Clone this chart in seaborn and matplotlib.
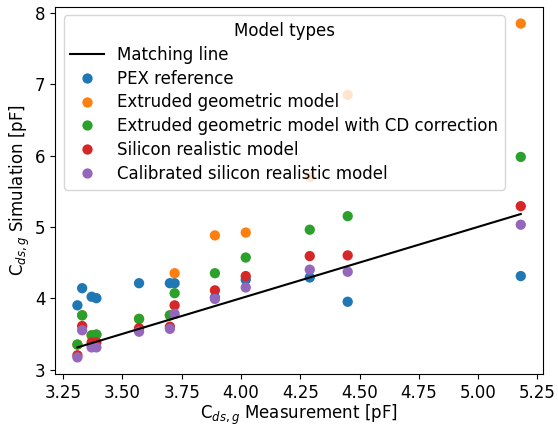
import matplotlib
matplotlib.use("Agg")
import matplotlib.pyplot as plt
import seaborn as sns
import pandas as pd

measurement = [3.31, 3.33, 3.37, 3.39, 3.57, 3.70, 3.72, 3.89, 4.02, 4.29, 4.45, 5.18]
pex_reference = [3.90, 4.14, 4.02, 4.00, 4.21, 4.21, 4.21, 4.01, 4.26, 4.29, 3.95, 4.31]
extruded = [3.35, 3.76, 3.48, 3.49, 3.71, 3.76, 4.35, 4.88, 4.92, 5.70, 6.85, 7.85]
extruded_cd = [3.35, 3.76, 3.48, 3.49, 3.71, 3.76, 4.07, 4.35, 4.57, 4.96, 5.15, 5.98]
silicon = [3.20, 3.61, 3.38, 3.38, 3.58, 3.60, 3.90, 4.11, 4.31, 4.59, 4.60, 5.29]
calibrated = [3.17, 3.55, 3.31, 3.31, 3.53, 3.57, 3.78, 3.99, 4.15, 4.40, 4.37, 5.03]

series = {
    "PEX reference": pex_reference,
    "Extruded geometric model": extruded,
    "Extruded geometric model with CD correction": extruded_cd,
    "Silicon realistic model": silicon,
    "Calibrated silicon realistic model": calibrated,
}

rows = []
for name, vals in series.items():
    for m, v in zip(measurement, vals):
        rows.append({"Measurement": m, "Simulation": v, "Model": name})
df = pd.DataFrame(rows)

plt.rcParams["font.family"] = ["DejaVu Sans"]
fig, ax = plt.subplots(figsize=(5.58, 4.29), dpi=100)
fig.subplots_adjust(left=0.099, right=0.973, top=0.984, bottom=0.128)

lo, hi = min(measurement), max(measurement)
sns.lineplot(x=[lo, hi], y=[lo, hi], color="black", label="Matching line", ax=ax)
sns.scatterplot(data=df, x="Measurement", y="Simulation", hue="Model",
                palette="tab10", s=55, edgecolor="none", ax=ax)

ax.set_xlabel(r"C$_{ds,g}$ Measurement [pF]", fontsize=12, labelpad=1)
ax.set_ylabel(r"C$_{ds,g}$ Simulation [pF]", fontsize=12, labelpad=2)
ax.tick_params(labelsize=12)
ax.set_xticks([3.25, 3.5, 3.75, 4.0, 4.25, 4.5, 4.75, 5.0, 5.25])
ax.set_yticks([3, 4, 5, 6, 7, 8])
ax.legend(title="Model types", fontsize=12, title_fontsize=12, loc="upper left",
          borderaxespad=0.5, labelspacing=0.35)

fig.savefig("out.png", dpi=100)
